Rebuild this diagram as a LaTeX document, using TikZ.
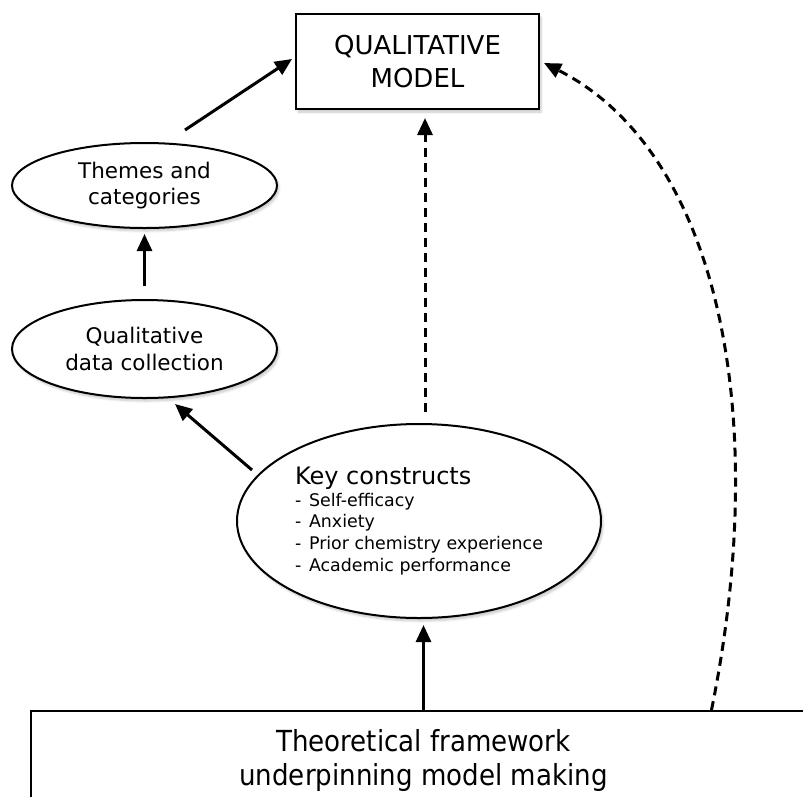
\documentclass[tikz,border=0pt]{standalone}
\usepackage{fontspec}
\setmainfont{DejaVu Sans}
\newfontfamily\condfont{DejaVu Sans Condensed}
\usetikzlibrary{arrows.meta,shapes.geometric,calc,shadows.blur}

\begin{document}
\begin{tikzpicture}[x=1pt,y=-1pt,
  frame/.style={draw, line width=2pt, fill=white,
    blur shadow={shadow xshift=2pt, shadow yshift=-3pt, shadow opacity=22, shadow blur steps=6}},
  oval/.style={frame, ellipse, inner sep=0pt, align=center},
  arr/.style={line width=3pt, -{Triangle[length=17pt,width=15pt]}},
  dasharr/.style={arr, dash pattern=on 9pt off 6pt},
]
\path[use as bounding box] (0,0) rectangle (803,796);
\clip (0,0) rectangle (803,796);

% boxes and ovals
\node[frame, minimum width=243pt, minimum height=95pt, align=center,
      font=\fontsize{26}{33}\selectfont] (mdl) at (417.5,61.5) {QUALITATIVE\\MODEL};

\node[oval, minimum width=265pt, minimum height=85pt,
      font=\fontsize{21.5}{26}\selectfont] (th) at (144.5,185.5) {Themes and\\categories};

\node[oval, minimum width=265pt, minimum height=98pt,
      font=\fontsize{21.5}{27}\selectfont] (qd) at (144.5,349) {Qualitative\\data collection};

\node[oval, minimum width=364pt, minimum height=194pt, align=left,
      font=\fontsize{17.4}{21.8}\selectfont] (kc) at (419,521)
  {{\fontsize{24}{24}\selectfont Key constructs}\\
   \makebox[14pt][l]{-}Self-efficacy\\
   \makebox[14pt][l]{-}Anxiety\\
   \makebox[14pt][l]{-}Prior chemistry experience\\
   \makebox[14pt][l]{-}Academic performance};

\node[frame, minimum width=785pt, minimum height=98pt, align=center,
      font=\condfont\fontsize{29}{34}\selectfont] (tf) at (423.5,760)
  {Theoretical framework\\underpinning model making};

% connectors
\draw[arr] ($(th.north)+(40.5,-12)$) -- ($(mdl.west)+(-3,-2.5)$);
\draw[arr] ($(qd.north)+(0,-13)$) -- ($(th.south)+(0,5)$);
\draw[arr] ($(kc.west)+(16,-51)$) -- ($(qd.south)+(30.5,5)$);
\draw[dasharr] ($(kc.north)+(6,-11)$) -- ($(mdl.south)+(7.5,8)$);
\draw[arr] (tf.north) -- ($(kc.south)+(4.5,6)$);
\draw[dasharr] ($(tf.north)+(288,0)$) .. controls +(61,-301) and +(172,87) .. ($(mdl.east)+(4,1.5)$);
\end{tikzpicture}
\end{document}
